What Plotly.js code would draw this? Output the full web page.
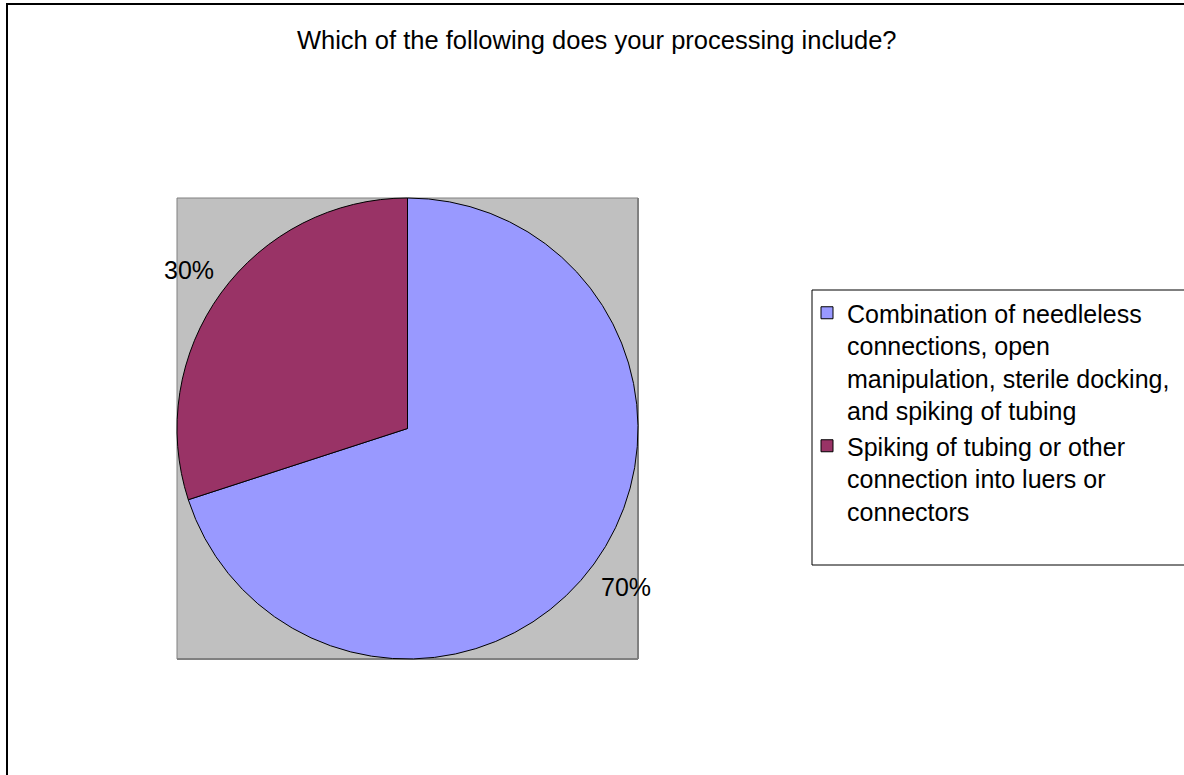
<!DOCTYPE html>
<html>
<head>
<meta charset="utf-8">
<script src="https://cdn.plot.ly/plotly-3.0.1.min.js"></script>
<style>html,body{margin:0;padding:0;background:#fff;}#chart{width:1184px;height:775px;}</style>
</head>
<body>
<div id="chart"></div>
<script>
// ---- data ----
const chartTitle = "Which of the following does your processing include?";
const categories = [
  "Combination of needleless<br>connections, open<br>manipulation, sterile docking,<br>and spiking of tubing",
  "Spiking of tubing or other<br>connection into luers or<br>connectors"
];
const shares = [70, 30];
const sliceColors = ["#9999FF", "#993366"];

// ---- layout helpers (pixel -> paper) ----
const W = 1184, H = 775;
const px = x => x / W;
const py = y => 1 - y / H;
const FONT = "Liberation Sans, Arial, sans-serif";

// plot area square (pixels)
const PA = { l: 177, r: 638, t: 198, b: 659 };
const domX = [px(PA.l), px(PA.r)];
const domY = [py(PA.b), py(PA.t)];

const trace = {
  type: "pie",
  labels: categories,
  values: shares,
  sort: false,
  direction: "clockwise",
  rotation: 0,
  marker: { colors: sliceColors, line: { color: "#000000", width: 1 } },
  textinfo: "none",
  domain: { x: domX, y: domY },
  hoverinfo: "label+percent"
};

// percentage labels placed outside each slice along its mid-angle (derived from the data)
const total = shares.reduce((a, b) => a + b, 0);
const radiusPx = Math.min(PA.r - PA.l, PA.b - PA.t) / 2;
const cxP = (domX[0] + domX[1]) / 2, cyP = (domY[0] + domY[1]) / 2;
const labelAnnotations = [];
let cum = 0;
shares.forEach(v => {
  const mid = (cum + v / 2) / total * 2 * Math.PI; // clockwise from 12 o'clock
  cum += v;
  const d = radiusPx * 1.17;
  labelAnnotations.push({
    xref: "paper", yref: "paper",
    x: cxP + d * Math.sin(mid) / W,
    y: cyP + d * Math.cos(mid) / H,
    xanchor: "center", yanchor: "middle",
    showarrow: false,
    text: Math.round(v / total * 100) + "%",
    font: { family: FONT, size: 25, color: "#000000" }
  });
});

const layout = {
  width: W, height: H,
  margin: { l: 0, r: 0, t: 0, b: 0 },
  paper_bgcolor: "#ffffff",
  font: { family: FONT, color: "#000000" },
  title: {
    text: chartTitle,
    font: { family: FONT, size: 25.5, color: "#000000" },
    x: 0.504, xanchor: "center", xref: "paper",
    y: py(40), yanchor: "middle", yref: "paper"
  },
  showlegend: true,
  legend: {
    x: px(807), xanchor: "left",
    y: py(290), yanchor: "top",
    bgcolor: "rgba(0,0,0,0)",
    borderwidth: 0,
    valign: "top",
    font: { family: FONT, size: 25, color: "#000000" },
    traceorder: "normal"
  },
  annotations: labelAnnotations,
  shapes: [
    // outer chart border (left + top)
    { type: "line", xref: "paper", yref: "paper", x0: px(7), x1: px(7), y0: py(780), y1: py(4), line: { color: "#000000", width: 2 } },
    { type: "line", xref: "paper", yref: "paper", x0: px(6), x1: px(1190), y0: py(4), y1: py(4), line: { color: "#000000", width: 2 } },
    // plot area
    { type: "rect", xref: "paper", yref: "paper", layer: "below", x0: domX[0], x1: domX[1], y0: domY[0], y1: domY[1], fillcolor: "#C0C0C0", line: { color: "#808080", width: 1 } },
    { type: "line", xref: "paper", yref: "paper", layer: "below", x0: domX[1], x1: domX[1], y0: domY[0], y1: domY[1], line: { color: "#808080", width: 2 } },
    { type: "line", xref: "paper", yref: "paper", layer: "below", x0: domX[0], x1: domX[1], y0: domY[0], y1: domY[0], line: { color: "#808080", width: 2 } },
    // legend box
    { type: "rect", xref: "paper", yref: "paper", x0: px(812), x1: px(1200), y0: py(565), y1: py(290), line: { color: "#000000", width: 1 } }
  ]
};

Plotly.newPlot("chart", [trace], layout, { displayModeBar: false, staticPlot: true });
</script>
</body>
</html>
